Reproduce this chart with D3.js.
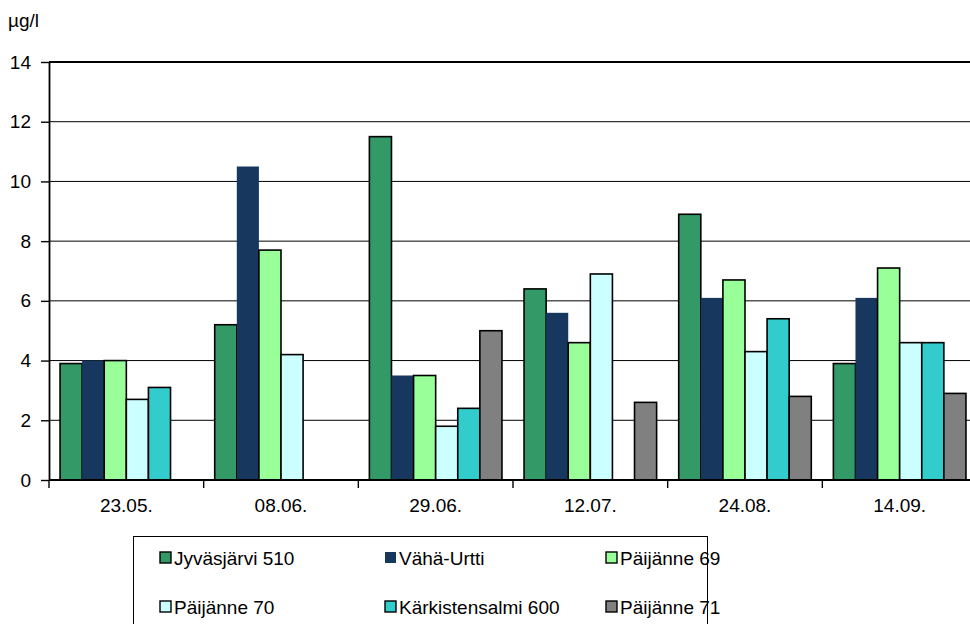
<!DOCTYPE html>
<html>
<head>
<meta charset="utf-8">
<script src="https://cdn.jsdelivr.net/npm/d3@7"></script>
<style>
  html, body { margin: 0; padding: 0; background: #fff; }
  svg { display: block; font-family: "Liberation Sans", Arial, sans-serif; }
</style>
</head>
<body>
<svg id="chart" width="970" height="624"></svg>
<script>
// Sampling dates and monitoring stations
const dates = ["23.05.", "08.06.", "29.06.", "12.07.", "24.08.", "14.09."];
const stations = ["Jyväsjärvi 510", "Vähä-Urtti", "Päijänne 69", "Päijänne 70", "Kärkistensalmi 600", "Päijänne 71"];
const colors = ["#339966", "#17375E", "#99FF99", "#CCFFFF", "#33CCCC", "#808080"];

// Concentration per station (µg/l), one value per date; null = not sampled
const jyvasjarvi510 = [3.9, 5.2, 11.5, 6.4, 8.9, 3.9];
const vahaUrtti = [4.0, 10.5, 3.5, 5.6, 6.1, 6.1];
const paijanne69 = [4.0, 7.7, 3.5, 4.6, 6.7, 7.1];
const paijanne70 = [2.7, 4.2, 1.8, 6.9, 4.3, 4.6];
const karkistensalmi600 = [3.1, null, 2.4, null, 5.4, 4.6];
const paijanne71 = [null, null, 5.0, 2.6, 2.8, 2.9];

const yTicks = [0, 2, 4, 6, 8, 10, 12, 14];
const unitLabel = "µg/l";

const seriesValues = [jyvasjarvi510, vahaUrtti, paijanne69, paijanne70, karkistensalmi600, paijanne71];

(function draw() {
  const svg = d3.select("#chart");
  const plotLeft = 49, plotRight = 977, plotTop = 62, plotBottom = 480;
  const fontSize = 19;

  const x0 = d3.scaleBand().domain(dates).range([plotLeft, plotRight]).paddingInner(0).paddingOuter(0);
  const x1 = d3.scaleBand().domain(stations).range([0, x0.bandwidth()]).paddingInner(0).paddingOuter(0.5);
  const y = d3.scaleLinear().domain([0, 14]).range([plotBottom, plotTop]);

  // Horizontal gridlines
  svg.append("g")
    .selectAll("line")
    .data(yTicks.filter(t => t > 0))
    .join("line")
    .attr("x1", plotLeft).attr("x2", 970)
    .attr("y1", d => y(d)).attr("y2", d => y(d))
    .attr("stroke", "#000").attr("stroke-width", d => d === 14 ? 1.8 : 1);

  // Bars
  const groups = svg.append("g")
    .selectAll("g")
    .data(dates)
    .join("g")
    .attr("transform", d => `translate(${x0(d)},0)`);

  groups.selectAll("rect")
    .data((d, i) => stations.map((s, k) => ({ s, k, v: seriesValues[k][i] })).filter(e => e.v != null))
    .join("rect")
    .attr("x", d => x1(d.s))
    .attr("width", x1.bandwidth())
    .attr("y", d => y(d.v))
    .attr("height", d => y(0) - y(d.v))
    .attr("fill", d => colors[d.k])
    .attr("stroke", d => d.k === 1 ? "none" : "#000")
    .attr("stroke-width", 1.6);

  // Y axis
  const yAxis = svg.append("g")
    .attr("transform", `translate(${plotLeft},0)`)
    .call(d3.axisLeft(y).tickValues(yTicks).tickSize(8).tickPadding(10).tickSizeOuter(0));
  yAxis.select(".domain").attr("stroke", "#000").attr("stroke-width", 1.8);
  yAxis.selectAll(".tick line").attr("stroke", "#000").attr("stroke-width", 1.4);
  yAxis.selectAll("text").attr("font-size", fontSize).attr("fill", "#000")
    .attr("font-family", "'Liberation Sans', Arial, sans-serif");

  // X axis: baseline and category dividers
  const xg = svg.append("g");
  xg.append("line")
    .attr("x1", plotLeft).attr("x2", 970)
    .attr("y1", plotBottom).attr("y2", plotBottom)
    .attr("stroke", "#000").attr("stroke-width", 1.8);
  xg.selectAll("line.div")
    .data(dates)
    .join("line")
    .attr("class", "div")
    .attr("x1", d => x0(d)).attr("x2", d => x0(d))
    .attr("y1", plotBottom).attr("y2", plotBottom + 8)
    .attr("stroke", "#000").attr("stroke-width", 1.4);
  xg.selectAll("text")
    .data(dates)
    .join("text")
    .attr("x", d => x0(d) + x0.bandwidth() / 2)
    .attr("y", 512)
    .attr("text-anchor", "middle")
    .attr("font-size", fontSize)
    .attr("fill", "#000")
    .text(d => d);

  // Unit label
  svg.append("text")
    .attr("x", 8).attr("y", 27)
    .attr("font-size", fontSize).attr("fill", "#000")
    .text(unitLabel);

  // Legend
  const legend = svg.append("g");
  legend.append("rect")
    .attr("x", 133.5).attr("y", 536.5)
    .attr("width", 574).attr("height", 100)
    .attr("fill", "#fff").attr("stroke", "#000").attr("stroke-width", 1);

  const colX = [159, 384, 605];
  const rowY = [552, 601];
  const items = legend.selectAll("g.item")
    .data(stations)
    .join("g")
    .attr("class", "item")
    .attr("transform", (d, i) => `translate(${colX[i % 3]},${rowY[Math.floor(i / 3)]})`);
  items.append("rect")
    .attr("x", 1).attr("y", 0)
    .attr("width", 11).attr("height", 11)
    .attr("fill", (d, i) => colors[i])
    .attr("stroke", (d, i) => i === 1 ? "none" : "#000")
    .attr("stroke-width", 1.4);
  items.append("text")
    .attr("x", 15).attr("y", 13)
    .attr("font-size", fontSize).attr("fill", "#000")
    .text(d => d);
})();
</script>
</body>
</html>
